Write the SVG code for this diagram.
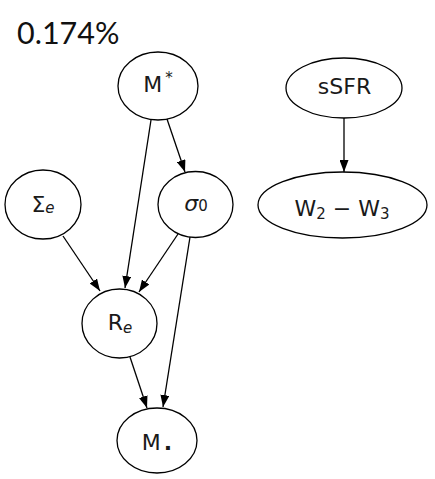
<svg xmlns="http://www.w3.org/2000/svg" width="435" height="479" viewBox="0 0 435 479">
<style>
.n{fill:none;stroke:#000;stroke-width:1.3}
.t{font-family:"DejaVu Sans",sans-serif;font-size:22px;fill:#1a1a1a;text-anchor:middle}
.e{stroke:#000;stroke-width:1.3;fill:none;marker-end:url(#a)}
.s{font-size:15px}
</style>
<defs>
<marker id="a" viewBox="0 0 12 9" refX="12" refY="4.5" markerWidth="12" markerHeight="9" markerUnits="userSpaceOnUse" orient="auto">
<path d="M0,0 L12,4.5 L0,9 z" fill="#000"/>
</marker>
</defs>
<rect width="435" height="479" fill="#fff"/>
<text x="17" y="44" font-family="Lato, sans-serif" font-size="30.5" fill="#111">0.174%</text>
<g id="edges">
<line class="e" x1="151" y1="120" x2="125" y2="288"/>
<line class="e" x1="167" y1="119" x2="185" y2="172"/>
<line class="e" x1="63" y1="236" x2="100" y2="291"/>
<line class="e" x1="178" y1="234" x2="139" y2="292"/>
<line class="e" x1="190" y1="237" x2="163" y2="407"/>
<line class="e" x1="130" y1="357" x2="147" y2="408"/>
<line class="e" x1="344" y1="118" x2="344" y2="172"/>
</g>
<g id="Mstar">
<ellipse class="n" cx="158" cy="86" rx="40" ry="34"/>
<text class="t" x="158" y="92">M<tspan class="s" dy="-9" dx="3">*</tspan></text>
</g>
<g id="Sigma">
<ellipse class="n" cx="43" cy="204.5" rx="38" ry="34.5"/>
<text class="t" x="43" y="212">Σ<tspan class="s" font-style="italic" dy="1">e</tspan></text>
</g>
<g id="sigma0">
<ellipse class="n" cx="195.5" cy="204.5" rx="37.5" ry="33"/>
<text class="t" x="196" y="211"><tspan font-style="italic">σ</tspan><tspan class="s">0</tspan></text>
</g>
<g id="Re">
<ellipse class="n" cx="119.5" cy="323.5" rx="37.5" ry="34.5"/>
<text class="t" x="120" y="330">R<tspan class="s" font-style="italic" dy="3">e</tspan></text>
</g>
<g id="Mbullet">
<ellipse class="n" cx="157" cy="440.5" rx="40" ry="32.5"/>
<text class="t" x="157" y="450">M<tspan dx="3" font-weight="bold">.</tspan></text>
</g>
<g id="sSFR">
<ellipse class="n" cx="344" cy="88" rx="58" ry="30"/>
<text class="t" x="344.5" y="94">sSFR</text>
</g>
<g id="W2W3">
<ellipse class="n" cx="342.5" cy="205" rx="84.5" ry="33"/>
<text class="t" x="342" y="216">W<tspan class="s" dy="3">2</tspan><tspan dy="-3"> − W</tspan><tspan class="s" dy="3">3</tspan></text>
</g>
</svg>
